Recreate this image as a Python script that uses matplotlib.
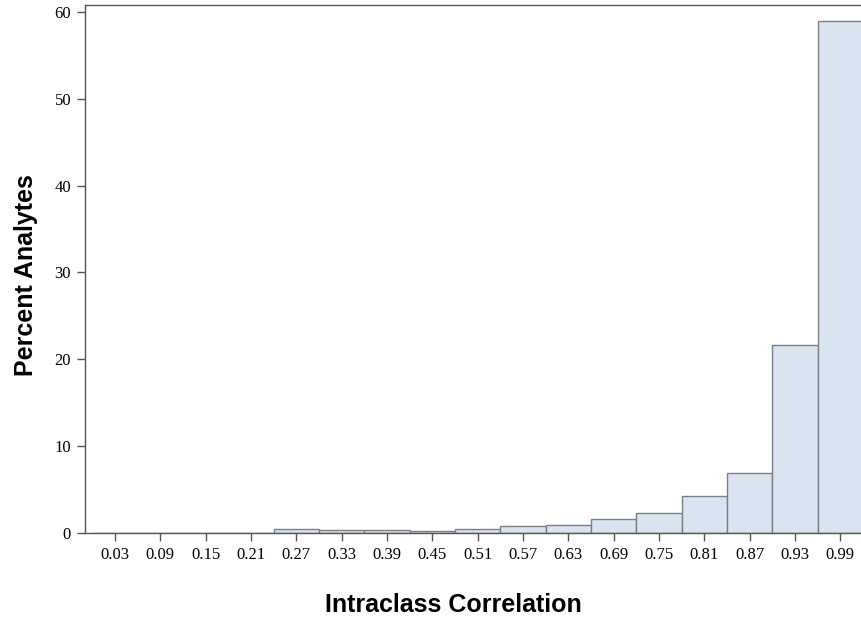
import numpy as np
import matplotlib.pyplot as plt

# bin midpoints (intraclass correlation) and percent of analytes per bin
bin_centers = [0.03, 0.09, 0.15, 0.21, 0.27, 0.33, 0.39, 0.45, 0.51,
               0.57, 0.63, 0.69, 0.75, 0.81, 0.87, 0.93, 0.99]
percent = [0.0, 0.0, 0.0, 0.0, 0.46, 0.31, 0.31, 0.18, 0.46,
           0.77, 0.97, 1.6, 2.35, 4.3, 6.9, 21.6, 59.0]
tick_labels = [f'{c:.2f}' for c in bin_centers]
bin_width = 0.06

fig = plt.figure(figsize=(8.62, 6.23), dpi=100)
ax_w = 1 - 85 / 862 + 0.002
ax = fig.add_axes([85 / 862, 1 - 533 / 623, ax_w, (533 - 5) / 623])

ax.bar(bin_centers, percent, width=bin_width, color='#dae3f0',
       edgecolor='#7a8088', linewidth=1.0, zorder=2)

ax.set_xlim(-0.0095, 1.021)
ax.set_ylim(0, 60.8)
ax.set_xticks(bin_centers)
ax.set_xticklabels(tick_labels)
ax.set_yticks([0, 10, 20, 30, 40, 50, 60])

for lab in ax.get_xticklabels() + ax.get_yticklabels():
    lab.set_fontfamily('Liberation Serif')
    lab.set_fontsize(12)
ax.tick_params(axis='both', length=6, width=1, color='#555555', pad=4)

for side in ['left', 'bottom', 'top', 'right']:
    ax.spines[side].set_color('#555555')
    ax.spines[side].set_linewidth(1.0)

ax.set_xlabel('Intraclass Correlation', fontfamily='Liberation Sans',
              fontweight='bold', fontsize=18)
ax.set_ylabel('Percent Analytes', fontfamily='Liberation Sans',
              fontweight='bold', fontsize=18)
ax_px = 862 * ax_w
ax.xaxis.set_label_coords((453 - 85) / ax_px, (533 - 593) / 528)
ax.yaxis.set_label_coords((38 - 85) / ax_px, (533 - 275) / 528)

fig.savefig('out.png', dpi=100)
